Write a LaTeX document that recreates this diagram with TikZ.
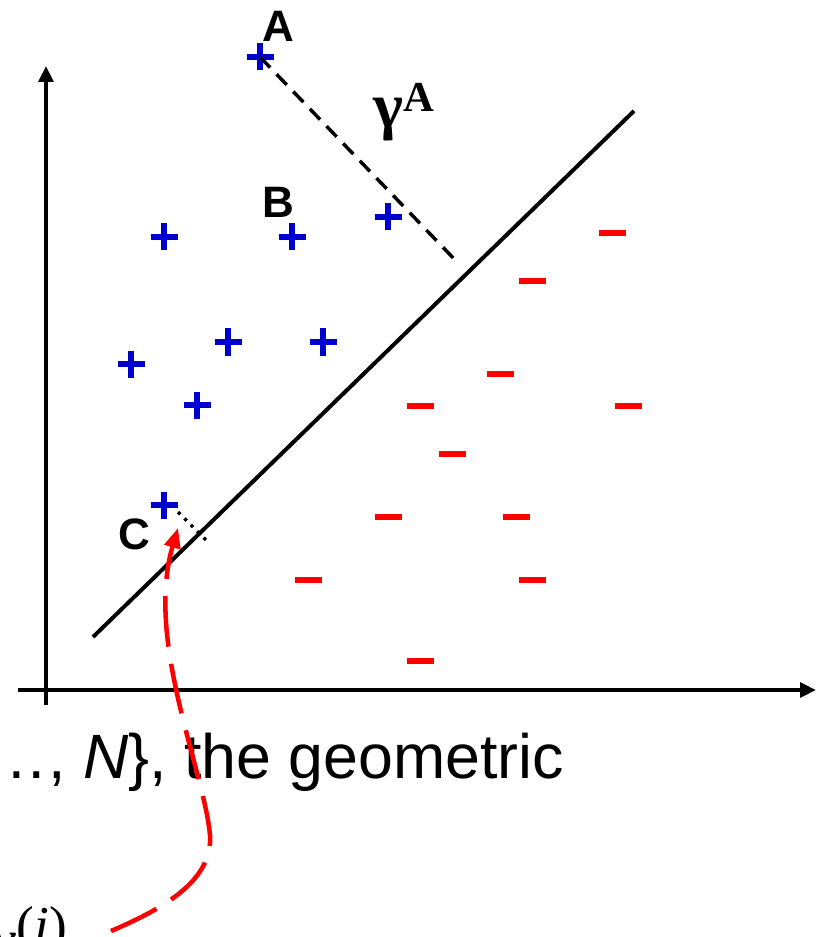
\documentclass[tikz,border=0pt]{standalone}
\usepackage{fontspec}
\setmainfont{Liberation Sans}
\newfontfamily\timesfont{Liberation Serif}
\usetikzlibrary{arrows.meta}
\definecolor{posblue}{RGB}{0,0,204}
\definecolor{negred}{RGB}{255,0,0}
\begin{document}
\begin{tikzpicture}[x=0.75pt,y=-0.75pt,>={Triangle[length=12pt,width=11pt]},
	axis/.style={line width=3.6pt,->},
	posmark/.style={posblue,line width=5.2pt},
	negmark/.style={negred,line width=5.2pt},
	lbl/.style={inner sep=0pt,font=\fontsize{33}{33}\selectfont\bfseries},
	margin/.style={line width=2.6pt,dash pattern=on 11pt off 7pt},
	tiny/.style={line width=2.6pt,dash pattern=on 2.4pt off 4.4pt}]
	\useasboundingbox (0,0) rectangle (827,937);
	% axes
	\draw[axis](46,705)--(46,66);
	\draw[axis](18,690)--(816,690);
	% separating line
	\coordinate (L1) at (93,637);
	\coordinate (L2) at (634,111);
	\draw[line width=3pt](L1)--(L2);
	% positive and negative samples
	\foreach \x/\y in {260/57,164/237,292/237,388/217,228/342,323/342,131/364,197/405,164/505}
		\draw[posmark](\x-13.5,\y)--(\x+13.5,\y) (\x,\y-13.5)--(\x,\y+13.5);
	\foreach \x/\y in {612/233,532/281,500/374,420/406,628/406,452/454,388/517,516/517,308/580,532/580,420/661}
		\draw[negmark](\x-13.5,\y)--(\x+13.5,\y);
	% labels
	\node[lbl] (labA) at (278,26) {A};
	\node[lbl] (labB) at (278,202) {B};
	\node[lbl] (labC) at (134,534) {C};
	\node[inner sep=0pt,anchor=base west] (gamA) at (373,128) {\timesfont\bfseries\fontsize{48}{48}\selectfont γ\raisebox{12.5pt}{\fontsize{32}{32}\selectfont A}};
	% distances to the line
	\coordinate (A) at (260,57);
	\coordinate (footA) at (459,264);
	\draw[margin](A)--(footA);
	\coordinate (Cd) at (178,512);
	\coordinate (footC) at (207,541);
	\draw[tiny](Cd)--(footC);
	% text of the slide
	\node[inner sep=0pt,anchor=base east,font=\fontsize{47}{47}\selectfont] (geo) at (564,778) {\ldots, \textit{N}\}, the geometric};
	\node[inner sep=0pt,anchor=base west] (xi) at (-12,962) {\timesfont\fontsize{48}{48}\selectfont\textit{x}\raisebox{14pt}{\fontsize{40}{40}\selectfont(\textit{i})}};
	% pointer
	\coordinate (tail) at (111,931);
	\coordinate (Ctip) at (178,528);
	\draw[negred,line width=3.4pt,dash pattern=on 38pt off 13pt,->,>={Triangle[length=15pt,width=12pt]}]
		(tail) .. controls (165,908) and (213,880) .. (210,835) .. controls (204,770) and (145,640) .. (Ctip);
\end{tikzpicture}
\end{document}
